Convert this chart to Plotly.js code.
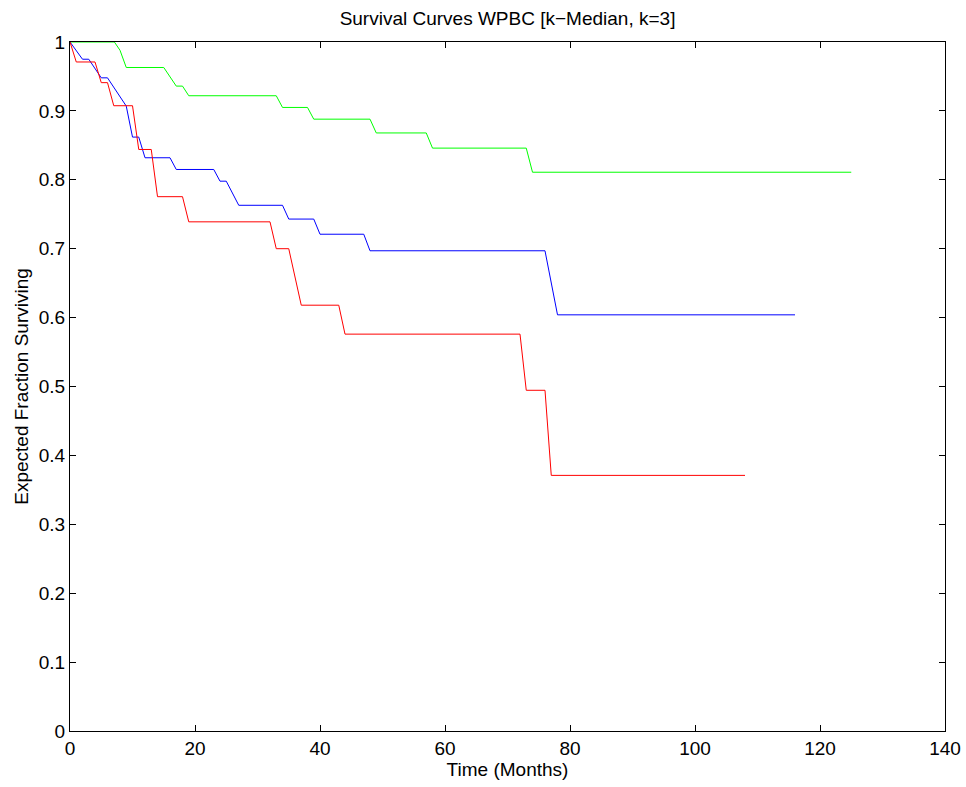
<!DOCTYPE html>
<html>
<head>
<meta charset="utf-8">
<script src="https://cdn.plot.ly/plotly-3.0.1.min.js"></script>
<style>html,body{margin:0;padding:0;background:#fff;}#chart{width:966px;height:787px;}</style>
</head>
<body>
<div id="chart"></div>
<script>
const greenTime = [0, 7.1, 8, 9, 15, 17, 18, 19, 33, 34, 38, 39, 48, 49, 57, 58, 73, 74, 125];
const greenSurv = [1, 1, 0.988, 0.963, 0.963, 0.936, 0.936, 0.922, 0.922, 0.905, 0.905, 0.888, 0.888, 0.868, 0.868, 0.846, 0.846, 0.811, 0.811];

const blueTime = [0, 2, 3, 5, 6, 9, 10, 11, 12, 16, 17, 23, 24, 25, 27, 34, 35, 39, 40, 47, 48, 76, 78, 116];
const blueSurv = [1, 0.975, 0.975, 0.948, 0.948, 0.907, 0.862, 0.862, 0.832, 0.832, 0.815, 0.815, 0.798, 0.798, 0.763, 0.763, 0.743, 0.743, 0.721, 0.721, 0.697, 0.697, 0.604, 0.604];

const redTime = [0, 1, 4, 5, 6, 7, 10, 11, 13, 14, 18, 19, 32, 33, 35, 37, 43, 44, 72, 73, 76, 77, 108];
const redSurv = [1, 0.971, 0.971, 0.941, 0.941, 0.9075, 0.9075, 0.844, 0.844, 0.7755, 0.7755, 0.739, 0.739, 0.700, 0.700, 0.618, 0.618, 0.576, 0.576, 0.4945, 0.4945, 0.371, 0.371];

const traces = [
  {x: greenTime, y: greenSurv, mode: 'lines', line: {color: '#00ff00', width: 1}, name: 'Cluster 1'},
  {x: blueTime, y: blueSurv, mode: 'lines', line: {color: '#0000ff', width: 1}, name: 'Cluster 2'},
  {x: redTime, y: redSurv, mode: 'lines', line: {color: '#ff0000', width: 1}, name: 'Cluster 3'}
];

const fnt = {family: 'Liberation Sans, Arial, sans-serif', size: 19, color: '#000'};
const layout = {
  width: 966, height: 787,
  margin: {l: 70, r: 21, t: 42, b: 56},
  paper_bgcolor: '#fff', plot_bgcolor: '#fff',
  showlegend: false,
  font: fnt,
  title: {text: 'Survival Curves WPBC [k\u2212Median, k=3]', font: fnt, x: 0.5254, xanchor: 'center', y: 0.977, yanchor: 'middle'},
  xaxis: {
    range: [0, 140], dtick: 20, tick0: 0,
    showgrid: false, zeroline: false,
    showline: true, linecolor: '#000', linewidth: 1, mirror: 'ticks',
    ticks: 'inside', ticklen: 6, tickcolor: '#000', tickwidth: 1,
    tickfont: fnt,
    title: {text: 'Time (Months)', font: fnt, standoff: 3}
  },
  yaxis: {
    range: [0, 1], dtick: 0.1, tick0: 0,
    showgrid: false, zeroline: false,
    showline: true, linecolor: '#000', linewidth: 1, mirror: 'ticks',
    ticks: 'inside', ticklen: 6, tickcolor: '#000', tickwidth: 1,
    tickfont: fnt,
    title: {text: 'Expected Fraction Surviving', font: fnt, standoff: 5}
  }
};
Plotly.newPlot('chart', traces, layout, {staticPlot: true, displayModeBar: false});
</script>
</body>
</html>
